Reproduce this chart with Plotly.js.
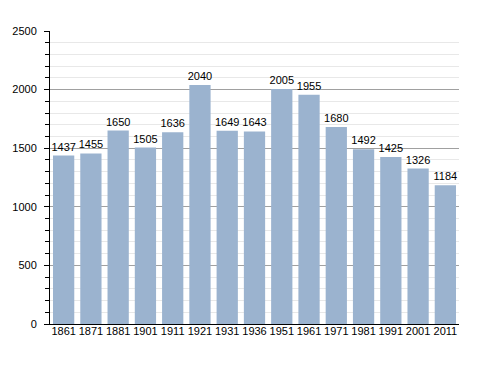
<!DOCTYPE html>
<html><head><meta charset="utf-8">
<script src="https://cdn.plot.ly/plotly-3.0.1.min.js"></script>
<style>body{margin:0;background:#fff}#c{width:488px;height:373px}</style>
</head><body><div id="c"></div>
<script>
const years = ['1861','1871','1881','1901','1911','1921','1931','1936','1951','1961','1971','1981','1991','2001','2011'];
const population = [1437,1455,1650,1505,1636,2040,1649,1643,2005,1955,1680,1492,1425,1326,1184];
const yTicks = [0,500,1000,1500,2000,2500];

Plotly.newPlot('c', [{
  type: 'bar', x: years, y: population,
  marker: {color: '#9bb3cf'},
  text: population.map(String), textposition: 'outside', cliponaxis: false, constraintext: 'none',
  textfont: {family: 'Liberation Sans, Arial, sans-serif', size: 11, color: '#000'},
  hoverinfo: 'none'
}], {
  width: 488, height: 373,
  margin: {l: 50, r: 29, t: 31, b: 49},
  paper_bgcolor: '#fff', plot_bgcolor: '#fff',
  bargap: 0.22,
  font: {family: 'Liberation Sans, Arial, sans-serif', size: 11, color: '#000'},
  xaxis: {type: 'category', showline: true, linecolor: '#000', linewidth: 1, ticks: '', showgrid: false, tickfont: {size: 11}, ticklabelstandoff: -3},
  yaxis: {range: [0, 2500], tickvals: yTicks, ticktext: yTicks.map(String), showline: true, linecolor: '#000', linewidth: 1,
    ticks: 'outside', ticklen: 5, tickcolor: '#000', gridcolor: '#a0a0a0', gridwidth: 1, zeroline: false, ticklabelstandoff: 5,
    minor: {dtick: 100, ticks: 'outside', ticklen: 4, tickcolor: '#000', showgrid: true, gridcolor: '#e8e8e8', gridwidth: 1},
    tickfont: {size: 11}}
}, {staticPlot: true});
</script></body></html>
